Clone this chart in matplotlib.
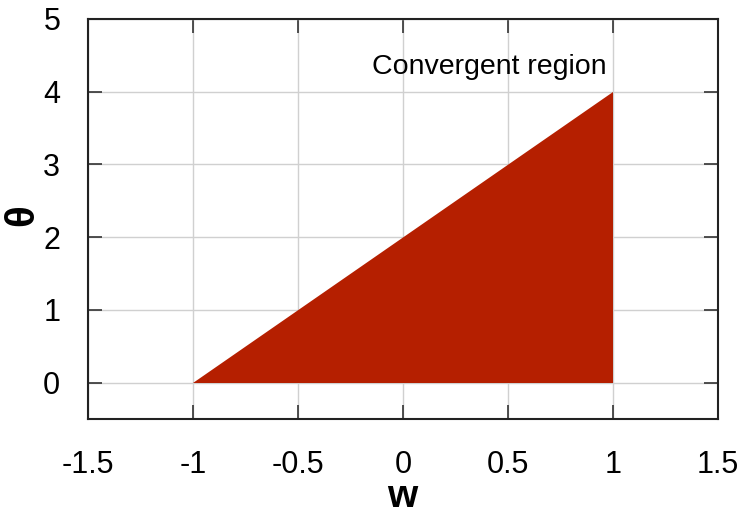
import matplotlib
matplotlib.use('Agg')
import matplotlib.pyplot as plt

# -------------------------------
# Data: vertices of the convergent region
# -------------------------------
region_w = [-1.0, 1.0, 1.0]
region_theta = [0.0, 0.0, 4.0]

x_ticks = [-1.5, -1, -0.5, 0, 0.5, 1, 1.5]
x_tick_labels = ['-1.5', '-1', '-0.5', '0', '0.5', '1', '1.5']
y_ticks = [0, 1, 2, 3, 4, 5]
y_tick_labels = ['0', '1', '2', '3', '4', '5']

plt.rcParams['font.family'] = ['Liberation Sans', 'DejaVu Sans']

fig = plt.figure(figsize=(7.42, 5.15), dpi=100)
ax = fig.add_axes([88 / 742, 1 - 419 / 515, 630 / 742, 400 / 515])

ax.fill(region_w, region_theta, color='#b51f00', lw=0, zorder=2)
ax.text(0.41, 4.34, 'Convergent region', fontsize=20.5, ha='center', va='center', zorder=3)

ax.set_xlim(-1.5, 1.5)
ax.set_ylim(-0.5, 5)
ax.set_xticks(x_ticks)
ax.set_xticklabels(x_tick_labels)
ax.set_yticks(y_ticks)
ax.set_yticklabels(y_tick_labels)

ax.grid(True, color='#d0d0d0', lw=1, zorder=0)
ax.set_axisbelow(True)
ax.tick_params(direction='in', length=10, width=1.2, top=True, right=True,
               labelsize=22, pad=20, color='#333333')
ax.tick_params(axis='x', pad=22)
for s in ax.spines.values():
    s.set_linewidth(1.5)
    s.set_color('#222222')

ax.set_xlabel('w', fontsize=28, fontweight='bold', va='center')
ax.xaxis.set_label_coords(0.498, -0.195)
ax.set_ylabel('θ', fontsize=29, fontweight='bold', va='center')
ax.yaxis.set_label_coords(-0.105, 0.51)

plt.savefig('out.png', dpi=100)
